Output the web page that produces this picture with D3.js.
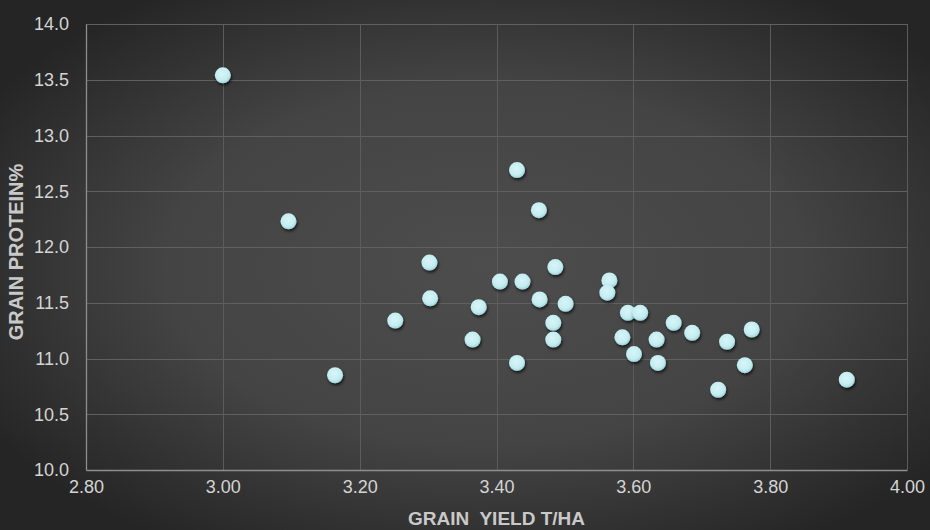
<!DOCTYPE html>
<html>
<head>
<meta charset="utf-8">
<script src="https://cdn.jsdelivr.net/npm/d3@7"></script>
<style>
html,body{margin:0;padding:0;background:#333;}
svg{display:block;}
</style>
</head>
<body>
<svg id="chart" width="930" height="530"></svg>
<script>
const yieldTHa = [3.000, 3.096, 3.164, 3.252, 3.302, 3.303, 3.374, 3.365, 3.405, 3.438,
  3.430, 3.462, 3.486, 3.463, 3.501, 3.483, 3.483, 3.430, 3.565, 3.562,
  3.592, 3.610, 3.584, 3.601, 3.634, 3.636, 3.659, 3.686, 3.737, 3.724,
  3.773, 3.763, 3.912];
const proteinPct = [13.54, 12.23, 10.85, 11.34, 11.86, 11.54, 11.46, 11.17, 11.69, 11.69,
  12.69, 12.33, 11.82, 11.53, 11.49, 11.32, 11.17, 10.96, 11.70, 11.59,
  11.41, 11.41, 11.19, 11.04, 11.17, 10.96, 11.32, 11.23, 11.15, 10.72,
  11.26, 10.94, 10.81];
const xTicks = [2.8, 3.0, 3.2, 3.4, 3.6, 3.8, 4.0];
const yTicks = [10.0, 10.5, 11.0, 11.5, 12.0, 12.5, 13.0, 13.5, 14.0];
const xTitle = "GRAIN  YIELD T/HA";
const yTitle = "GRAIN PROTEIN%";

const W = 930, H = 530;
const m = {left: 86, right: 23, top: 24, bottom: 60};
const svg = d3.select("#chart");
const defs = svg.append("defs");

const bg = defs.append("radialGradient").attr("id","bg")
  .attr("cx","52%").attr("cy","50%").attr("r","62%");
bg.append("stop").attr("offset","0%").attr("stop-color","#4d4d4d");
bg.append("stop").attr("offset","55%").attr("stop-color","#444444");
bg.append("stop").attr("offset","100%").attr("stop-color","#252525");

const dot = defs.append("radialGradient").attr("id","dot")
  .attr("cx","45%").attr("cy","40%").attr("r","60%");
dot.append("stop").attr("offset","0%").attr("stop-color","#d8f5f8");
dot.append("stop").attr("offset","70%").attr("stop-color","#c4edf1");
dot.append("stop").attr("offset","100%").attr("stop-color","#9fd3d9");

const sh = defs.append("filter").attr("id","sh")
  .attr("x","-50%").attr("y","-50%").attr("width","200%").attr("height","200%");
sh.append("feDropShadow").attr("dx",1).attr("dy",2).attr("stdDeviation",1.6)
  .attr("flood-color","#000").attr("flood-opacity",0.7);

svg.append("rect").attr("width",W).attr("height",H).attr("fill","url(#bg)");

const x = d3.scaleLinear().domain([2.8, 4.0]).range([m.left, W - m.right]);
const y = d3.scaleLinear().domain([10, 14]).range([H - m.bottom, m.top]);

const font = "'Liberation Sans', Arial, sans-serif";

// gridlines
const g = svg.append("g");
g.selectAll("line.hx").data(yTicks.slice(1)).join("line")
  .attr("x1", m.left).attr("x2", W - m.right)
  .attr("y1", d => Math.round(y(d)) + 0.5).attr("y2", d => Math.round(y(d)) + 0.5)
  .attr("stroke","#606060").attr("stroke-width",1);
g.selectAll("line.vx").data(xTicks.slice(1)).join("line")
  .attr("y1", m.top).attr("y2", H - m.bottom)
  .attr("x1", d => Math.round(x(d)) + 0.5).attr("x2", d => Math.round(x(d)) + 0.5)
  .attr("stroke","#5c5c5c").attr("stroke-width",1);

// axes
const xAxis = svg.append("g").attr("transform", `translate(0,${H - m.bottom})`)
  .call(d3.axisBottom(x).tickValues(xTicks).tickFormat(d3.format(".2f")).tickSize(0).tickPadding(10));
const yAxis = svg.append("g").attr("transform", `translate(${m.left},0)`)
  .call(d3.axisLeft(y).tickValues(yTicks).tickFormat(d3.format(".1f")).tickSize(0).tickPadding(17));
[xAxis, yAxis].forEach(a => {
  a.select(".domain").attr("stroke","#8e8e8e").attr("stroke-width",1.3);
  a.selectAll("text").attr("fill","#d4d4d4").style("font-family", font).style("font-size","18px");
});

// titles
svg.append("text").attr("x", (m.left + W - m.right) / 2).attr("y", 525)
  .attr("text-anchor","middle").attr("fill","#c9c9c9")
  .style("font-family", font).style("font-size","19px").style("font-weight","bold")
  .style("white-space","pre").text(xTitle);
svg.append("text").attr("transform", `translate(23,${252}) rotate(-90)`)
  .attr("text-anchor","middle").attr("fill","#c9c9c9")
  .style("font-family", font).style("font-size","20px").style("font-weight","bold")
  .text(yTitle);

// points
const data = yieldTHa.map((v, i) => ({x: v, y: proteinPct[i]}));
svg.append("g").selectAll("circle").data(data).join("circle")
  .attr("cx", d => x(d.x)).attr("cy", d => y(d.y)).attr("r", 8)
  .attr("fill","url(#dot)").attr("filter","url(#sh)");
</script>
</body>
</html>
